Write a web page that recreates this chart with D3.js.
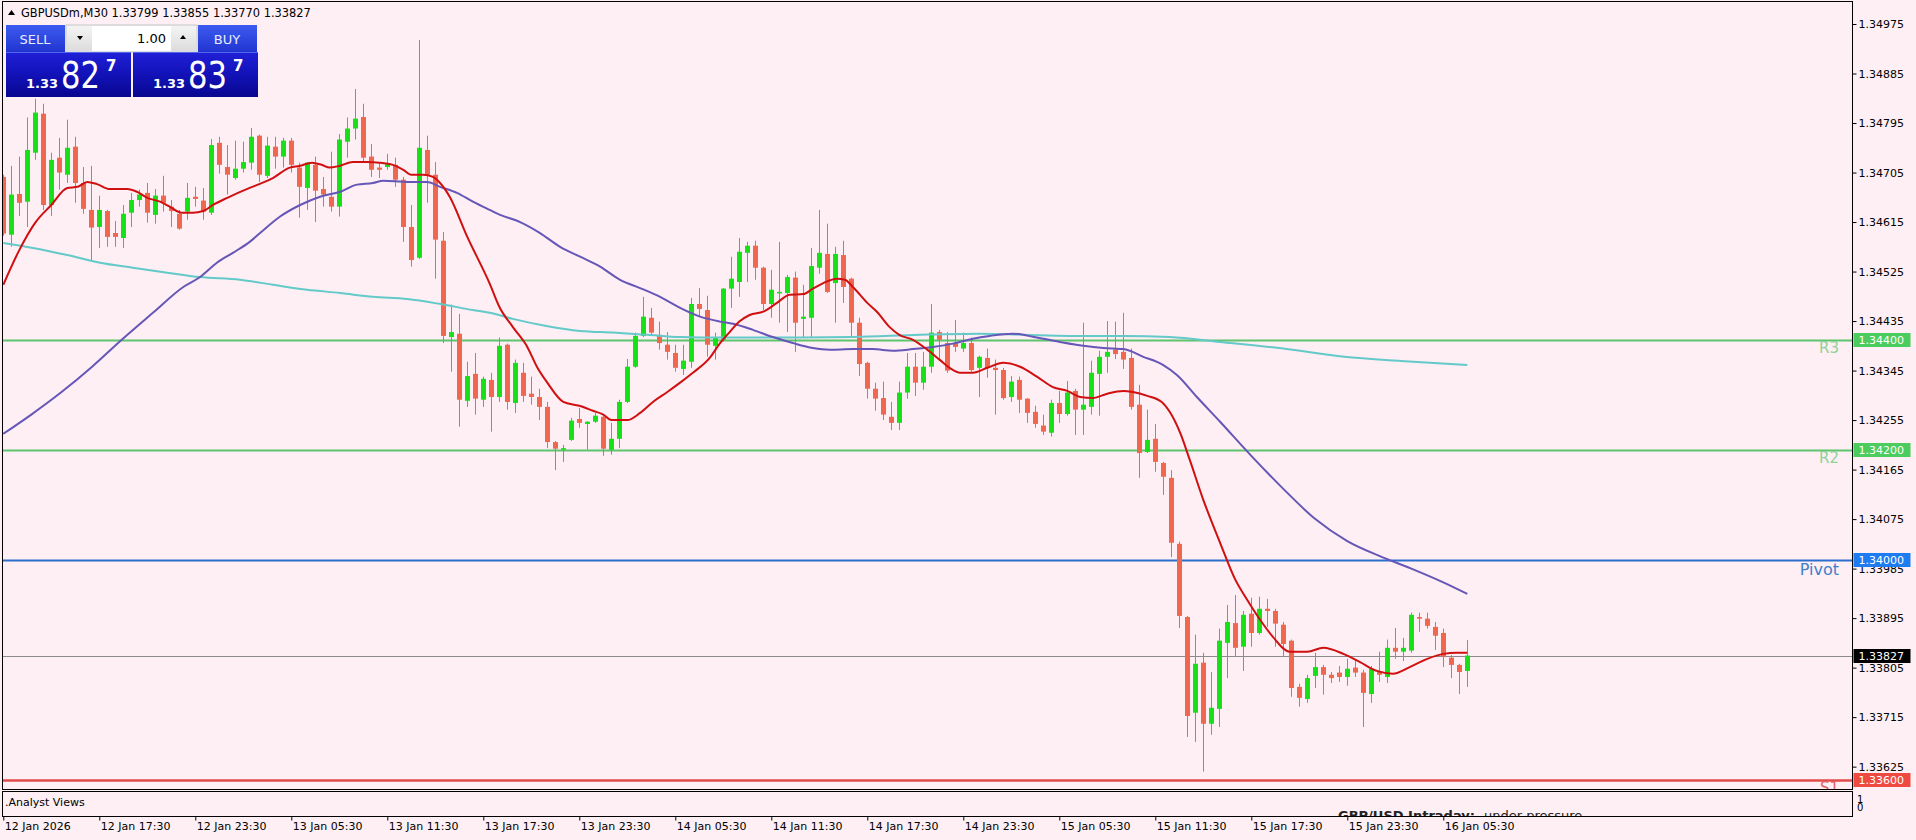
<!DOCTYPE html>
<html><head><meta charset="utf-8">
<script src="https://cdn.jsdelivr.net/npm/d3@7"></script>
<style>
html,body{margin:0;padding:0;background:#fdeff3;overflow:hidden}
svg{display:block}
text{font-family:"DejaVu Sans",sans-serif}
</style>
</head><body>
<svg id="chart" width="1916" height="840"></svg>
<script>
// ---------------- DATA ----------------
const symbolTitle = "GBPUSDm,M30";
const lastOHLC = ["1.33799", "1.33855", "1.33770", "1.33827"];
const timeTickBars = [0, 12, 24, 36, 48, 60, 72, 84, 96, 108, 120, 132, 144, 156, 168, 180];
const timeLabels = ["12 Jan 2026", "12 Jan 17:30", "12 Jan 23:30", "13 Jan 05:30", "13 Jan 11:30", "13 Jan 17:30",
  "13 Jan 23:30", "14 Jan 05:30", "14 Jan 11:30", "14 Jan 17:30", "14 Jan 23:30", "15 Jan 05:30",
  "15 Jan 11:30", "15 Jan 17:30", "15 Jan 23:30", "16 Jan 05:30"];
const priceTicks = [1.34975, 1.34885, 1.34795, 1.34705, 1.34615, 1.34525, 1.34435, 1.34345, 1.34255,
  1.34165, 1.34075, 1.33985, 1.33895, 1.33805, 1.33715, 1.33625];

const open = [1.34697,1.34592,1.34666,1.34652,1.34741,1.34812,1.34646,1.34732,1.34701,1.34752,
1.34686,1.34637,1.34606,1.34635,1.34595,1.34586,1.34632,1.34655,1.34668,1.34628,
1.34663,1.34643,1.34630,1.34634,1.34661,1.34654,1.34632,1.34759,1.34715,1.34695,
1.34712,1.34723,1.34772,1.34699,1.34752,1.34734,1.34763,1.34714,1.34677,1.34719,
1.34675,1.34661,1.34643,1.34761,1.34785,1.34806,1.34734,1.34714,1.34715,1.34719,
1.34692,1.34606,1.34550,1.34746,1.34701,1.34581,1.34406,1.34412,1.34290,1.34339,
1.34292,1.34328,1.34297,1.34392,1.34286,1.34341,1.34303,1.34297,1.34279,1.34215,
1.34201,1.34219,1.34257,1.34248,1.34252,1.34261,1.34201,1.34221,1.34288,1.34352,
1.34408,1.34441,1.34410,1.34392,1.34377,1.34348,1.34361,1.34466,1.34455,1.34390,
1.34401,1.34494,1.34506,1.34559,1.34572,1.34532,1.34466,1.34486,1.34486,1.34514,
1.34439,1.34441,1.34532,1.34557,1.34504,1.34555,1.34512,1.34432,1.34359,1.34312,
1.34295,1.34261,1.34250,1.34305,1.34352,1.34323,1.34352,1.34415,1.34395,1.34395,
1.34385,1.34395,1.34350,1.34368,1.34350,1.34346,1.34297,1.34328,1.34294,1.34270,
1.34245,1.34232,1.34286,1.34266,1.34308,1.34274,1.34279,1.34339,1.34370,1.34383,
1.34379,1.34368,1.34283,1.34197,1.34221,1.34177,1.34150,1.34030,1.33897,1.33723,
1.33814,1.33703,1.33730,1.33850,1.33886,1.33843,1.33903,1.33868,1.33912,1.33908,
1.33883,1.33854,1.33770,1.33748,1.33790,1.33806,1.33792,1.33796,1.33788,1.33805,
1.33796,1.33757,1.33797,1.33788,1.33841,1.33834,1.33836,1.33897,1.33894,1.33879,
1.33868,1.33823,1.33810,1.33799];
const high = [1.34701,1.34717,1.34734,1.34805,1.34839,1.34830,1.34741,1.34768,1.34801,1.34770,
1.34715,1.34717,1.34663,1.34637,1.34617,1.34646,1.34668,1.34674,1.34686,1.34675,
1.34699,1.34655,1.34637,1.34686,1.34679,1.34677,1.34766,1.34770,1.34755,1.34763,
1.34761,1.34786,1.34774,1.34770,1.34770,1.34768,1.34768,1.34723,1.34724,1.34734,
1.34697,1.34743,1.34775,1.34805,1.34857,1.34830,1.34757,1.34724,1.34739,1.34732,
1.34697,1.34646,1.34946,1.34772,1.34724,1.34597,1.34465,1.34448,1.34361,1.34377,
1.34334,1.34341,1.34405,1.34394,1.34365,1.34359,1.34334,1.34312,1.34288,1.34217,
1.34210,1.34259,1.34277,1.34253,1.34268,1.34265,1.34250,1.34292,1.34366,1.34414,
1.34479,1.34459,1.34434,1.34415,1.34392,1.34392,1.34477,1.34495,1.34481,1.34414,
1.34495,1.34552,1.34586,1.34579,1.34581,1.34534,1.34528,1.34579,1.34519,1.34525,
1.34501,1.34568,1.34637,1.34612,1.34570,1.34581,1.34514,1.34441,1.34361,1.34323,
1.34325,1.34288,1.34325,1.34377,1.34377,1.34379,1.34466,1.34419,1.34415,1.34437,
1.34414,1.34405,1.34372,1.34385,1.34365,1.34350,1.34335,1.34334,1.34295,1.34281,
1.34265,1.34292,1.34308,1.34326,1.34312,1.34432,1.34363,1.34381,1.34435,1.34434,
1.34450,1.34385,1.34319,1.34274,1.34248,1.34179,1.34164,1.34034,1.33899,1.33865,
1.33832,1.33797,1.33876,1.33919,1.33937,1.33908,1.33932,1.33934,1.33930,1.33912,
1.33888,1.33856,1.33776,1.33792,1.33832,1.33810,1.33797,1.33808,1.33821,1.33819,
1.33801,1.33808,1.33834,1.33856,1.33877,1.33859,1.33905,1.33905,1.33905,1.33888,
1.33876,1.33828,1.33812,1.33855];
const low = [1.34590,1.34570,1.34626,1.34606,1.34728,1.34637,1.34626,1.34674,1.34686,1.34650,
1.34630,1.34543,1.34568,1.34570,1.34570,1.34568,1.34606,1.34643,1.34614,1.34612,
1.34634,1.34606,1.34601,1.34619,1.34643,1.34619,1.34628,1.34703,1.34665,1.34692,
1.34705,1.34710,1.34688,1.34695,1.34712,1.34714,1.34705,1.34623,1.34637,1.34615,
1.34643,1.34634,1.34625,1.34732,1.34765,1.34723,1.34697,1.34695,1.34710,1.34679,
1.34579,1.34534,1.34548,1.34650,1.34512,1.34395,1.34343,1.34243,1.34279,1.34265,
1.34279,1.34234,1.34288,1.34274,1.34268,1.34288,1.34283,1.34255,1.34204,1.34164,
1.34179,1.34217,1.34241,1.34201,1.34250,1.34190,1.34192,1.34204,1.34286,1.34350,
1.34406,1.34408,1.34383,1.34365,1.34343,1.34337,1.34350,1.34443,1.34370,1.34365,
1.34397,1.34459,1.34479,1.34506,1.34510,1.34455,1.34441,1.34432,1.34415,1.34379,
1.34406,1.34406,1.34521,1.34486,1.34432,1.34468,1.34406,1.34335,1.34294,1.34272,
1.34255,1.34237,1.34237,1.34294,1.34299,1.34310,1.34341,1.34365,1.34341,1.34379,
1.34379,1.34343,1.34297,1.34332,1.34265,1.34292,1.34288,1.34268,1.34250,1.34241,
1.34228,1.34225,1.34250,1.34263,1.34228,1.34228,1.34265,1.34263,1.34341,1.34366,
1.34348,1.34274,1.34150,1.34195,1.34161,1.34119,1.34006,1.33877,1.33679,1.33670,
1.33616,1.33683,1.33697,1.33786,1.33825,1.33799,1.33843,1.33865,1.33879,1.33843,
1.33826,1.33752,1.33734,1.33741,1.33768,1.33756,1.33777,1.33779,1.33772,1.33788,
1.33697,1.33741,1.33779,1.33777,1.33821,1.33817,1.33832,1.33870,1.33876,1.33837,
1.33806,1.33786,1.33757,1.33770];
const close = [1.34594,1.34665,1.34650,1.34746,1.34814,1.34646,1.34728,1.34705,1.34750,1.34686,
1.34639,1.34605,1.34637,1.34588,1.34588,1.34630,1.34655,1.34665,1.34632,1.34663,
1.34650,1.34635,1.34603,1.34659,1.34657,1.34634,1.34755,1.34719,1.34701,1.34712,
1.34724,1.34770,1.34701,1.34754,1.34734,1.34763,1.34719,1.34679,1.34723,1.34672,
1.34665,1.34643,1.34765,1.34785,1.34803,1.34732,1.34710,1.34710,1.34721,1.34692,
1.34606,1.34546,1.34750,1.34701,1.34583,1.34408,1.34415,1.34292,1.34335,1.34294,
1.34330,1.34297,1.34390,1.34288,1.34359,1.34299,1.34297,1.34279,1.34215,1.34203,
1.34204,1.34254,1.34250,1.34252,1.34263,1.34203,1.34221,1.34288,1.34352,1.34408,
1.34443,1.34414,1.34395,1.34379,1.34350,1.34363,1.34466,1.34457,1.34392,1.34405,
1.34494,1.34512,1.34561,1.34572,1.34532,1.34466,1.34492,1.34488,1.34515,1.34432,
1.34443,1.34535,1.34559,1.34488,1.34557,1.34497,1.34432,1.34357,1.34312,1.34294,
1.34265,1.34250,1.34305,1.34352,1.34323,1.34352,1.34414,1.34401,1.34345,1.34388,
1.34395,1.34346,1.34370,1.34350,1.34346,1.34295,1.34325,1.34292,1.34268,1.34248,
1.34234,1.34286,1.34266,1.34305,1.34274,1.34283,1.34341,1.34370,1.34379,1.34375,
1.34365,1.34279,1.34195,1.34219,1.34179,1.34152,1.34032,1.33899,1.33717,1.33812,
1.33703,1.33732,1.33854,1.33888,1.33841,1.33901,1.33868,1.33912,1.33908,1.33885,
1.33848,1.33768,1.33750,1.33786,1.33806,1.33792,1.33786,1.33788,1.33803,1.33796,
1.33759,1.33803,1.33792,1.33841,1.33834,1.33841,1.33901,1.33894,1.33881,1.33863,
1.33825,1.33810,1.33797,1.33827];

// moving averages: [bar index, price]
const fastMA = [[0,1.34501],[2,1.34564],[4,1.34614],[6,1.34646],[8,1.34677],[9.3,1.34679],[10.5,1.34688],[11.7,1.34684],[13.3,1.34675],[15.5,1.34675],[16.7,1.34670],[18,1.34659],[19.6,1.34652],[20.8,1.34643],[22.3,1.34632],[23.7,1.34632],[25,1.34635],[26.2,1.34646],[28,1.34659],[30.8,1.34677],[32,1.34684],[33.7,1.34695],[35.8,1.34714],[37,1.34717],[38.6,1.34723],[39.8,1.34719],[40.8,1.34714],[42,1.34717],[43.7,1.34724],[45.5,1.34724],[47,1.34723],[48.7,1.34719],[50,1.34710],[51,1.34701],[52.5,1.34701],[53.7,1.34697],[54.6,1.34686],[55.8,1.34661],[58,1.34588],[60.8,1.34503],[62,1.34461],[63.7,1.34424],[65.5,1.34388],[66.7,1.34352],[68,1.34323],[70,1.34288],[72,1.34281],[73.7,1.34272],[75,1.34265],[76,1.34255],[78,1.34255],[79.6,1.34268],[81.2,1.34288],[83,1.34306],[84.6,1.34323],[86.2,1.34341],[88.3,1.34368],[89.6,1.34395],[90.8,1.34415],[92,1.34434],[93.3,1.34446],[95,1.34452],[96.7,1.34468],[98.3,1.34483],[100,1.34484],[101.2,1.34494],[102.5,1.34504],[104.2,1.34512],[105.2,1.34510],[106.2,1.34497],[108,1.34468],[109.2,1.34452],[110.8,1.34424],[112,1.34410],[113.7,1.34401],[115.5,1.34383],[117.1,1.34364],[118.3,1.34350],[119.6,1.34341],[121.2,1.34341],[123,1.34350],[125,1.34359],[127.1,1.34352],[129.2,1.34334],[131.2,1.34315],[133,1.34308],[134.6,1.34297],[136.2,1.34295],[138,1.34303],[140,1.34308],[141.2,1.34306],[143,1.34299],[144.8,1.34288],[145.8,1.34270],[147.1,1.34232],[148.3,1.34183],[150,1.34110],[152.1,1.34032],[154,1.33965],[155.5,1.33928],[157.1,1.33892],[158.7,1.33861],[160.8,1.33834],[163,1.33834],[165,1.33841],[167.5,1.33830],[169.6,1.33815],[171.7,1.33799],[173.7,1.33794],[175.8,1.33806],[178,1.33821],[180,1.33830],[181.7,1.33832],[183,1.33832]];
const midMA = [[0,1.34230],[3.5,1.34265],[7.2,1.34305],[11.1,1.34352],[14.8,1.34401],[18.7,1.34450],[22.5,1.34497],[24.6,1.34515],[26.7,1.34541],[28.7,1.34559],[30.8,1.34579],[32.1,1.34595],[34.6,1.34625],[37.1,1.34646],[39.6,1.34661],[42.1,1.34670],[44.2,1.34683],[46.2,1.34686],[47.5,1.34690],[50.5,1.34688],[53,1.34688],[54.6,1.34679],[56.7,1.34668],[58.7,1.34652],[60.8,1.34637],[62.1,1.34628],[64.6,1.34615],[67.1,1.34595],[69.6,1.34570],[72.1,1.34552],[74.6,1.34534],[77.1,1.34510],[79.6,1.34495],[82.1,1.34479],[84.6,1.34459],[87.1,1.34443],[89.6,1.34434],[91.2,1.34430],[93.7,1.34419],[96.2,1.34406],[98.7,1.34395],[101.2,1.34386],[103.3,1.34383],[106.2,1.34384],[108.7,1.34384],[111.2,1.34381],[113.7,1.34384],[116.2,1.34388],[118.7,1.34394],[121.2,1.34403],[123.3,1.34408],[126.2,1.34412],[129.2,1.34405],[132.1,1.34397],[135,1.34390],[137.5,1.34386],[140,1.34384],[142.5,1.34370],[145,1.34355],[146.7,1.34337],[149.2,1.34297],[152.1,1.34252],[156,1.34190],[160,1.34130],[164,1.34075],[168,1.34035],[172,1.34008],[176,1.33985],[180,1.33960],[183,1.33939]];
const slowMA = [[0,1.34577],[3.7,1.34568],[8,1.34555],[12.1,1.34541],[16.2,1.34532],[20.5,1.34523],[24.6,1.34515],[29.6,1.34510],[33.7,1.34501],[38,1.34492],[42.1,1.34486],[46.2,1.34479],[50.5,1.34475],[54.6,1.34466],[58.7,1.34455],[60.8,1.34450],[63.7,1.34439],[67.9,1.34426],[72.1,1.34417],[76.2,1.34414],[80.5,1.34410],[84.6,1.34406],[89.6,1.34405],[98,1.34405],[106.2,1.34406],[114.6,1.34410],[122.1,1.34412],[127.5,1.34410],[133.3,1.34408],[140,1.34408],[145.8,1.34406],[152.1,1.34397],[160,1.34385],[167.6,1.34370],[175.2,1.34362],[183,1.34355]];

const levelNames = ["R3", "R2", "Pivot", "S1"];
const levelValues = [1.34400, 1.34200, 1.34000, 1.33600];
const levelColors = ["#5fc46e", "#5fc46e", "#2a6fcb", "#e24b4b"];
const levelTagColors = ["#4ccc5e", "#4ccc5e", "#1f7cf0", "#ee4a42"];
const levelTextColors = ["#8fd39b", "#8fd39b", "#3f7fca", "#e06060"];
const currentPrice = 1.33827;
const sellQuote = ["1.33", "82", "7"];
const buyQuote = ["1.33", "83", "7"];
const lotSize = "1.00";
const subTitle = ".Analyst Views";
const subAxis = ["1", "0"];
const analystHead = "GBP/USD Intraday:";
const analystText = "under pressure.";

// ---------------- LAYOUT ----------------
const svg = d3.select("#chart");
const plot = {left: 2.5, right: 1852.5, top: 1.5, bottom: 789.5};
const sub = {top: 791.5, bottom: 816.5};
const x = d3.scaleLinear().domain([0, 183]).range([3.3, 1467.3]);
const y = d3.scaleLinear().domain([1.33588, 1.35015]).range([787, 2]);
const bull = "#17e017", bear = "#f06750";
const bg = "#fdeff3";

svg.append("rect").attr("width", 1916).attr("height", 840).attr("fill", bg);

const defs = svg.append("defs");
defs.append("clipPath").attr("id", "plotClip").append("rect")
  .attr("x", plot.left + 0.5).attr("y", plot.top + 0.5)
  .attr("width", plot.right - plot.left - 1).attr("height", plot.bottom - plot.top - 1);
defs.append("clipPath").attr("id", "subClip").append("rect")
  .attr("x", plot.left + 0.5).attr("y", sub.top + 0.5)
  .attr("width", plot.right - plot.left - 1).attr("height", sub.bottom - sub.top - 1);

function grad(id, stops) {
  const g = defs.append("linearGradient").attr("id", id).attr("x1", 0).attr("y1", 0).attr("x2", 0).attr("y2", 1);
  stops.forEach(s => g.append("stop").attr("offset", s[0]).attr("stop-color", s[1]));
}
grad("btnGrad", [[0, "#3c5cf0"], [1, "#2234d0"]]);
grad("priceGrad", [[0, "#2020d8"], [0.5, "#1212b8"], [1, "#070790"]]);
grad("lotGrad", [[0, "#f4f4f4"], [1, "#dcdcdc"]]);

const g = svg.append("g").attr("clip-path", "url(#plotClip)");

// level lines
levelValues.forEach((v, i) => {
  g.append("line").attr("x1", plot.left).attr("x2", plot.right)
    .attr("y1", Math.round(y(v)) + 0.5).attr("y2", Math.round(y(v)) + 0.5)
    .attr("stroke", levelColors[i]).attr("stroke-width", i === 3 ? 2.5 : 2);
  g.append("text").attr("x", 1839).attr("y", y(v) + (i === 2 ? 15 : 13))
    .attr("text-anchor", "end").attr("fill", levelTextColors[i])
    .attr("font-size", i === 2 ? 16 : 15).text(levelNames[i]);
});
// current price line
g.append("line").attr("x1", plot.left).attr("x2", plot.right)
  .attr("y1", Math.round(y(currentPrice)) + 0.5).attr("y2", Math.round(y(currentPrice)) + 0.5)
  .attr("stroke", "#8a8a8a").attr("stroke-width", 1);

// candles
const idx = d3.range(open.length);
g.append("g").selectAll("line").data(idx).join("line")
  .attr("x1", i => Math.round(x(i)) + 0.5).attr("x2", i => Math.round(x(i)) + 0.5)
  .attr("y1", i => y(high[i])).attr("y2", i => y(low[i]))
  .attr("stroke", i => close[i] >= open[i] ? bull : bear).attr("stroke-width", 1);
g.append("g").selectAll("rect").data(idx).join("rect")
  .attr("x", i => Math.round(x(i)) - 2).attr("width", 5)
  .attr("y", i => y(Math.max(open[i], close[i])))
  .attr("height", i => Math.max(1.5, Math.abs(y(open[i]) - y(close[i]))))
  .attr("fill", i => close[i] >= open[i] ? bull : bear);

// moving averages
const maLine = d3.line().x(d => x(d[0])).y(d => y(d[1])).curve(d3.curveMonotoneX);
g.append("path").datum(slowMA).attr("d", maLine).attr("fill", "none").attr("stroke", "#63c9c9").attr("stroke-width", 2);
g.append("path").datum(midMA).attr("d", maLine).attr("fill", "none").attr("stroke", "#6656b8").attr("stroke-width", 2);
g.append("path").datum(fastMA).attr("d", maLine).attr("fill", "none").attr("stroke", "#d01010").attr("stroke-width", 2);

// borders
const border = svg.append("g").attr("fill", "none").attr("stroke", "#000").attr("stroke-width", 1).attr("shape-rendering", "crispEdges");
border.append("rect").attr("x", plot.left).attr("y", plot.top).attr("width", plot.right - plot.left).attr("height", plot.bottom - plot.top);
border.append("rect").attr("x", plot.left).attr("y", sub.top).attr("width", plot.right - plot.left).attr("height", sub.bottom - sub.top);

// right price axis
const yAxis = d3.axisRight(y).tickValues(priceTicks).tickSize(4).tickFormat(d3.format(".5f"));
const ya = svg.append("g").attr("transform", `translate(${plot.right},0)`).call(yAxis);
ya.select(".domain").remove();
ya.selectAll("line").attr("stroke", "#000");
ya.selectAll("text").attr("font-size", 11).attr("fill", "#000").attr("x", 6).attr("font-family", "DejaVu Sans");

// level price tags
const tagVals = levelValues.concat([currentPrice]);
const tagColors = levelTagColors.concat(["#000"]);
tagVals.forEach((v, i) => {
  const yy = Math.round(y(v));
  svg.append("rect").attr("x", plot.right + 1).attr("y", yy - 7).attr("width", 57).attr("height", 14).attr("fill", tagColors[i]);
  svg.append("text").attr("x", plot.right + 6).attr("y", yy + 4).attr("font-size", 11)
    .attr("fill", "#fff").text(d3.format(".5f")(v));
});

// time axis
const xAxis = d3.axisBottom(x).tickValues(timeTickBars).tickSize(4)
  .tickFormat((d, i) => timeLabels[i]);
const xa = svg.append("g").attr("transform", `translate(0,${sub.bottom})`).call(xAxis);
xa.select(".domain").remove();
xa.selectAll("line").attr("stroke", "#000");
xa.selectAll("text").attr("font-size", 11).attr("fill", "#000").attr("text-anchor", "start")
  .attr("x", 1).attr("y", 6).attr("dy", "0.71em").attr("font-family", "DejaVu Sans");

// subwindow
svg.append("text").attr("x", 5).attr("y", 806).attr("font-size", 11).attr("fill", "#000").text(subTitle);
const sg = svg.append("g").attr("clip-path", "url(#subClip)");
sg.append("text").attr("x", 1338).attr("y", 820).attr("font-size", 13).attr("font-weight", "bold").attr("fill", "#222")
  .attr("text-decoration", "underline").text(analystHead);
sg.append("text").attr("x", 1484).attr("y", 820).attr("font-size", 13).attr("fill", "#222").text(analystText);
subAxis.forEach((t, i) => svg.append("text").attr("x", 1857).attr("y", 803 + i * 8).attr("font-size", 10).attr("fill", "#000").text(t));

// header
svg.append("path").attr("d", "M8,15 L11.5,10 L15,15 Z").attr("fill", "#000");
svg.append("text").attr("x", 21).attr("y", 17).attr("font-size", 11.4).attr("fill", "#000")
  .text(symbolTitle + "  " + lastOHLC.join(" "));

// one click trading panel
const p = svg.append("g");
p.append("rect").attr("x", 6).attr("y", 25).attr("width", 59).attr("height", 27).attr("fill", "url(#btnGrad)");
p.append("rect").attr("x", 198).attr("y", 25).attr("width", 59).attr("height", 27).attr("fill", "url(#btnGrad)");
p.append("text").attr("x", 35).attr("y", 44).attr("text-anchor", "middle").attr("font-size", 13).attr("fill", "#e8ecff").text("SELL");
p.append("text").attr("x", 227).attr("y", 44).attr("text-anchor", "middle").attr("font-size", 13).attr("fill", "#e8ecff").text("BUY");
p.append("rect").attr("x", 66).attr("y", 25).attr("width", 131).attr("height", 27).attr("fill", "#f0f0f0").attr("stroke", "#c8c8c8");
p.append("rect").attr("x", 67).attr("y", 26).attr("width", 25).attr("height", 25).attr("fill", "url(#lotGrad)");
p.append("rect").attr("x", 171).attr("y", 26).attr("width", 25).attr("height", 25).attr("fill", "url(#lotGrad)");
p.append("rect").attr("x", 92).attr("y", 26).attr("width", 79).attr("height", 25).attr("fill", "#fff");
p.append("path").attr("d", "M77,36 L83,36 L80,40 Z").attr("fill", "#000");
p.append("path").attr("d", "M180,39 L186,39 L183,35 Z").attr("fill", "#000");
p.append("text").attr("x", 166).attr("y", 43).attr("text-anchor", "end").attr("font-size", 13).attr("fill", "#000").text(lotSize);
[[6, sellQuote], [133, buyQuote]].forEach(([x0, q]) => {
  p.append("rect").attr("x", x0).attr("y", 52).attr("width", 125).attr("height", 45).attr("fill", "url(#priceGrad)");
  p.append("line").attr("x1", x0).attr("x2", x0 + 125).attr("y1", 52.5).attr("y2", 52.5).attr("stroke", "#5566ee");
  p.append("text").attr("x", x0 + 20).attr("y", 88).attr("font-size", 13).attr("font-weight", "bold").attr("fill", "#fff").text(q[0]);
  p.append("text").attr("x", x0 + 55).attr("y", 88).attr("font-size", 38).attr("fill", "#fff")
    .attr("font-family", "Open Sans").attr("textLength", 39).attr("lengthAdjust", "spacingAndGlyphs").text(q[1]);
  p.append("text").attr("x", x0 + 100).attr("y", 71).attr("font-size", 15).attr("font-weight", "bold").attr("fill", "#fff").text(q[2]);
});
</script>
</body></html>
